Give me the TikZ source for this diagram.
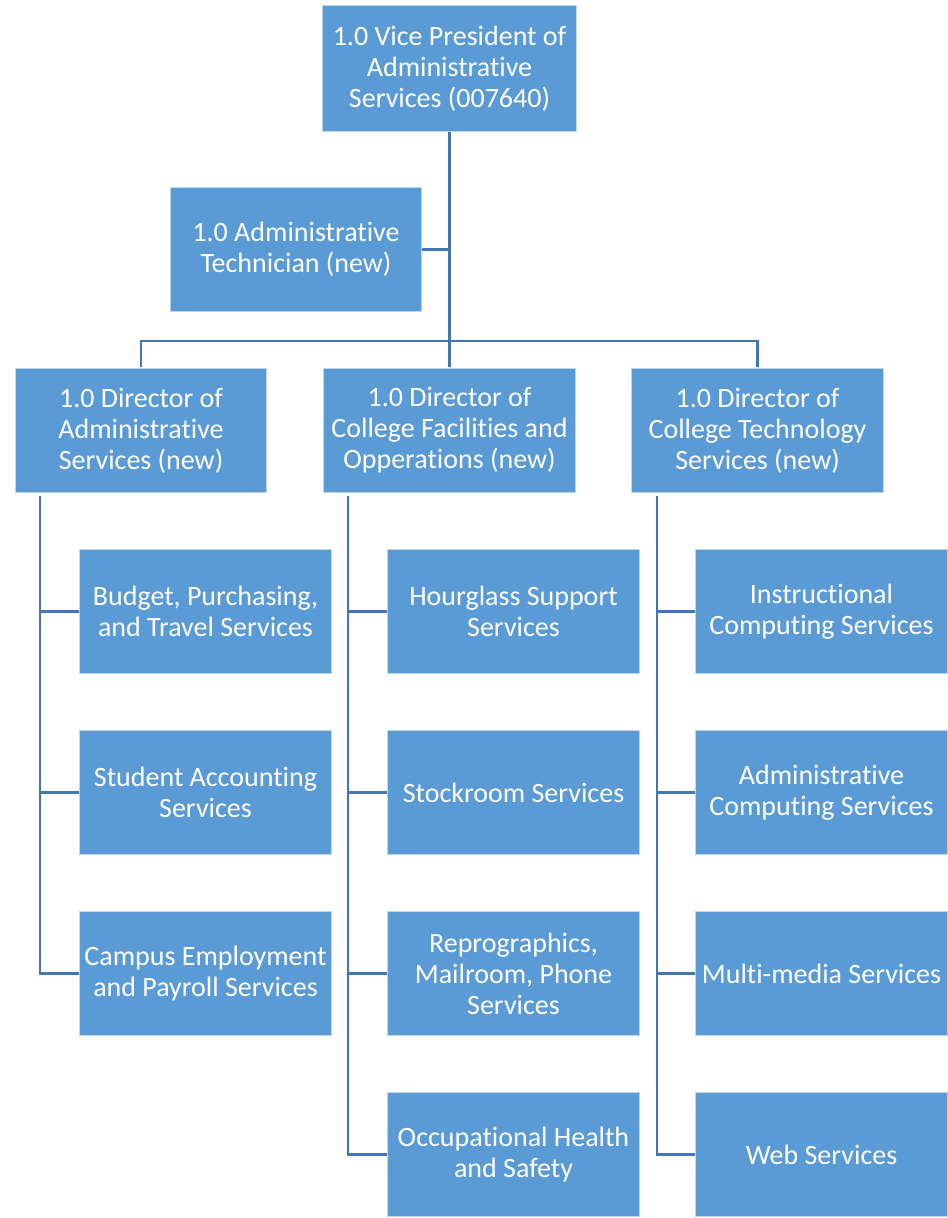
\documentclass[tikz,border=0pt]{standalone}
\usepackage{fontspec}
\setmainfont{Carlito}[Ligatures=NoCommon]
\usepackage{xcolor}
\usetikzlibrary{positioning}
\definecolor{boxblue}{RGB}{91,155,213}
\definecolor{lineblue}{RGB}{70,118,175}

\begin{document}
\begin{tikzpicture}[x=0.75pt, y=-0.75pt,
	every node/.style={rectangle, draw=white!60!boxblue, line width=0.6pt, fill=boxblue, text=white, align=center, inner sep=0pt, minimum width=188.5pt, minimum height=92.5pt, font=\fontsize{21}{23.3}\selectfont},
	link/.style={draw=lineblue, line width=1.6pt}]
			\useasboundingbox (0,0) rectangle (948,1218);
			% Nodes
			\node (vp) at (449.5,68.5) [minimum width=190pt, minimum height=94pt] {1.0 Vice President of\\Administrative\\Services (007640)};
			\node (tech) at (296,249.5) {1.0 Administrative\\Technician (new)};
			\node (d1) at (141,430.5) {1.0 Director of\\Administrative\\Services (new)};
			\node (d2) at (449.5,430.5) {1.0 Director of\\College Facilities and\\Opperations (new)};
			\node (d3) at (757.5,430.5) {1.0 Director of\\College Technology\\Services (new)};
			% Administrative services
			\node (a1) at (205.5,611.5) {Budget, Purchasing,\\and Travel Services};
			\node (a2) at (205.5,792.5) {Student Accounting\\Services};
			\node (a3) at (205.5,973.5) {Campus Employment\\and Payroll Services};
			% Facilities and operations
			\node (f1) at (513.5,611.5) {Hourglass Support\\Services};
			\node (f2) at (513.5,792.5) {Stockroom Services};
			\node (f3) at (513.5,973.5) {Reprographics,\\Mailroom, Phone\\Services};
			\node (f4) at (513.5,1154.5) {Occupational Health\\and Safety};
			% Technology services
			\node (t1) at (821.5,611.5) {Instructional\\Computing Services};
			\node (t2) at (821.5,792.5) {Administrative\\Computing Services};
			\node (t3) at (821.5,973.5) {Multi-media Services};
			\node (t4) at (821.5,1154.5) {Web Services};
			% Edges
			\coordinate (bar) at (449.5,341);
			\coordinate (s1) at (40,496);
			\coordinate (s2) at (348,496);
			\coordinate (s3) at (657,496);
			\draw[link] (vp.south) -- (bar);
			\draw[link] (tech.east) -- (tech.east -| bar);
			\draw[link] ([yshift=1pt]d1.north) |- (bar) -| ([yshift=1pt]d3.north);
			\draw[link] ([yshift=1pt]d2.north) -- (bar);
			\draw[link] (s1) |- (a3.west);
			\draw[link] (a1.west) -- (a1.west -| s1);
			\draw[link] (a2.west) -- (a2.west -| s1);
			\draw[link] (s2) |- (f4.west);
			\draw[link] (f1.west) -- (f1.west -| s2);
			\draw[link] (f2.west) -- (f2.west -| s2);
			\draw[link] (f3.west) -- (f3.west -| s2);
			\draw[link] (s3) |- (t4.west);
			\draw[link] (t1.west) -- (t1.west -| s3);
			\draw[link] (t2.west) -- (t2.west -| s3);
			\draw[link] (t3.west) -- (t3.west -| s3);
		\end{tikzpicture}
\end{document}
